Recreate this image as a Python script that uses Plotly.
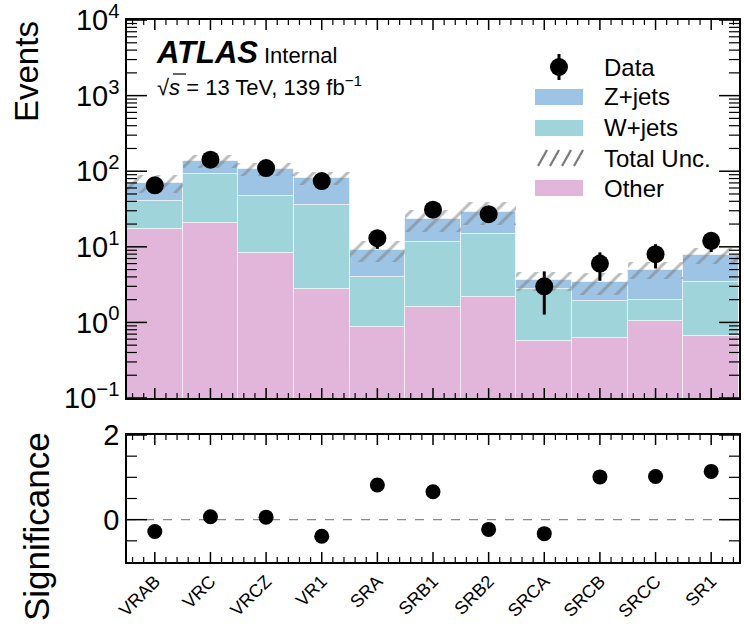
import numpy as np
import plotly.graph_objects as go

# ---------------- data ----------------
regions = ["VRAB", "VRC", "VRCZ", "VR1", "SRA", "SRB1", "SRB2", "SRCA", "SRCB", "SRCC", "SR1"]
other = [17.0, 20.5, 8.4, 2.8, 0.86, 1.6, 2.2, 0.56, 0.63, 1.05, 0.67]
wjets = [23.0, 71.0, 38.0, 33.0, 3.1, 10.0, 12.4, 2.2, 1.3, 0.95, 2.8]
zjets = [30.0, 45.0, 61.0, 46.0, 5.2, 11.7, 14.6, 0.85, 1.5, 3.0, 4.4]
total_unc = [19.0, 25.0, 22.0, 16.0, 2.8, 7.7, 10.0, 1.0, 1.1, 1.25, 1.9]
data = [65, 142, 110, 74, 13, 31, 27, 3, 6, 8, 12]
significance = [-0.28, 0.07, 0.06, -0.39, 0.82, 0.66, -0.23, -0.33, 1.01, 1.02, 1.14]

C_Z = "#9dc3e5"
C_W = "#9fd4db"
C_OTHER = "#e2b6da"
FONT = "Liberation Sans"

n_bins = len(regions)
xpos = [float(i) for i in range(n_bins)]
other_a = np.array(other)
w_a = np.array(wjets)
z_a = np.array(zjets)
tot = other_a + w_a + z_a
unc = np.array(total_unc)
data_a = np.array(data, dtype=float)

# ---------------- page geometry ----------------
W_PX, H_PX = 744, 624
L, R, T, B = 127, 739, 20, 562
TOP_BOTTOM_PX = 398      # lower edge of the upper panel
LOW_TOP_PX = 435         # upper edge of the lower panel


def px(v):
    return (v - L) / (R - L)


def py(v):
    return (B - v) / (B - T)


PLOT_W = R - L
TOP_H = TOP_BOTTOM_PX - T
LOW_H = B - LOW_TOP_PX
XR = [-0.5, n_bins - 0.5]
YLOG = [-1, 4]
YSIG = [-1, 2]

fig = go.Figure()

edge = dict(color="rgba(255,255,255,0.55)", width=1)
fig.add_trace(go.Bar(x=xpos, y=other_a.tolist(), base=[1e-3] * n_bins, width=1.0,
                     marker=dict(color=C_OTHER, line=edge), name="Other",
                     xaxis="x", yaxis="y"))
fig.add_trace(go.Bar(x=xpos, y=w_a.tolist(), base=other_a.tolist(), width=1.0,
                     marker=dict(color=C_W, line=edge), name="W+jets",
                     xaxis="x", yaxis="y"))
fig.add_trace(go.Bar(x=xpos, y=z_a.tolist(), base=(other_a + w_a).tolist(), width=1.0,
                     marker=dict(color=C_Z, line=edge), name="Z+jets",
                     xaxis="x", yaxis="y"))
fig.add_trace(go.Bar(x=xpos, y=(2 * unc).tolist(), base=(tot - unc).tolist(), width=1.0,
                     marker=dict(color="rgba(0,0,0,0)", line=dict(width=0),
                                 pattern=dict(shape="/", fgcolor="#7a7a7a",
                                              bgcolor="rgba(0,0,0,0)",
                                              size=12, solidity=0.25,
                                              fillmode="overlay")),
                     name="Total Unc.", xaxis="x", yaxis="y"))


# ---------------- tick marks, drawn on the panels' own scales ----------------
def tick_trace(segments, width, xaxis, yaxis):
    xs, ys = [], []
    for (x0, y0), (x1, y1) in segments:
        xs += [x0, x1, None]
        ys += [y0, y1, None]
    return go.Scatter(x=xs, y=ys, mode="lines", line=dict(color="black", width=width),
                      hoverinfo="skip", showlegend=False, cliponaxis=False,
                      xaxis=xaxis, yaxis=yaxis)


x_span = XR[1] - XR[0]
dx_major = 20 / PLOT_W * x_span
dx_minor = 10 / PLOT_W * x_span
minor_x = [k * 0.2 for k in range(-2, 5 * n_bins - 2)
           if k % 5 != 0 and XR[0] < k * 0.2 < XR[1]]

# upper panel (log scale)
dec_per_px = (YLOG[1] - YLOG[0]) / TOP_H
ylo, yhi = 10.0 ** YLOG[0], 10.0 ** YLOG[1]
up_major, up_minor = [], []
for xv in xpos:
    up_major.append(((xv, ylo), (xv, ylo * 10 ** (10 * dec_per_px))))
    up_major.append(((xv, yhi), (xv, yhi / 10 ** (10 * dec_per_px))))
for xv in minor_x:
    up_minor.append(((xv, ylo), (xv, ylo * 10 ** (5 * dec_per_px))))
    up_minor.append(((xv, yhi), (xv, yhi / 10 ** (5 * dec_per_px))))
for e in range(YLOG[0], YLOG[1] + 1):
    yv = 10.0 ** e
    up_major.append(((XR[0], yv), (XR[0] + dx_major, yv)))
    up_major.append(((XR[1], yv), (XR[1] - dx_major, yv)))
    if e < YLOG[1]:
        for m in range(2, 10):
            yv = m * 10.0 ** e
            up_minor.append(((XR[0], yv), (XR[0] + dx_minor, yv)))
            up_minor.append(((XR[1], yv), (XR[1] - dx_minor, yv)))

# lower panel (linear scale)
sig_per_px = (YSIG[1] - YSIG[0]) / LOW_H
lo_major, lo_minor = [], []
for xv in xpos:
    lo_major.append(((xv, YSIG[0]), (xv, YSIG[0] + 10 * sig_per_px)))
    lo_major.append(((xv, YSIG[1]), (xv, YSIG[1] - 10 * sig_per_px)))
for xv in minor_x:
    lo_minor.append(((xv, YSIG[0]), (xv, YSIG[0] + 5 * sig_per_px)))
    lo_minor.append(((xv, YSIG[1]), (xv, YSIG[1] - 5 * sig_per_px)))
for yv in (0, 2):
    lo_major.append(((XR[0], yv), (XR[0] + dx_major, yv)))
    lo_major.append(((XR[1], yv), (XR[1] - dx_major, yv)))
for yv in (-0.5, 0.5, 1.0, 1.5):
    lo_minor.append(((XR[0], yv), (XR[0] + dx_minor, yv)))
    lo_minor.append(((XR[1], yv), (XR[1] - dx_minor, yv)))

# dashed reference line at zero significance
fig.add_trace(go.Scatter(x=XR, y=[0, 0], mode="lines",
                         line=dict(color="#888888", width=1.2, dash="dash"),
                         hoverinfo="skip", showlegend=False, xaxis="x2", yaxis="y2"))

fig.add_trace(tick_trace(up_major, 1.5, "x", "y"))
fig.add_trace(tick_trace(up_minor, 1.2, "x", "y"))
fig.add_trace(tick_trace(lo_major, 1.5, "x2", "y2"))
fig.add_trace(tick_trace(lo_minor, 1.2, "x2", "y2"))

# ---------------- measured points ----------------
fig.add_trace(go.Scatter(x=xpos, y=data_a.tolist(), mode="markers",
                         marker=dict(color="black", size=18),
                         error_y=dict(type="data", array=np.sqrt(data_a).tolist(),
                                      color="black", thickness=3, width=0),
                         name="Data", xaxis="x", yaxis="y"))

fig.add_trace(go.Scatter(x=xpos, y=significance, mode="markers",
                         marker=dict(color="black", size=15),
                         name="Significance", xaxis="x2", yaxis="y2"))

# ---------------- axes ----------------
frame = dict(showline=True, linecolor="black", linewidth=1.5, mirror=True,
             showgrid=False, zeroline=False, ticks="")

top_ticks = [1e-1, 1e0, 1e1, 1e2, 1e3, 1e4]
top_text = ["10<sup>−1</sup>", "10<sup>0</sup>", "10<sup>1</sup>",
            "10<sup>2</sup>", "10<sup>3</sup>", "10<sup>4</sup>"]

fig.update_layout(
    width=W_PX, height=H_PX,
    margin=dict(l=L, r=W_PX - R, t=T, b=H_PX - B, autoexpand=False),
    paper_bgcolor="white", plot_bgcolor="white",
    barmode="overlay", bargap=0, showlegend=False,
    font=dict(family=FONT, color="black"),
    xaxis=dict(frame, range=XR, domain=[0, 1], anchor="y", showticklabels=False),
    yaxis=dict(frame, type="log", range=[YLOG[0], YLOG[1] + 0.0005],
               domain=[py(TOP_BOTTOM_PX), 1], anchor="x",
               tickmode="array", tickvals=top_ticks, ticktext=top_text,
               tickfont=dict(size=29, family=FONT, color="black")),
    xaxis2=dict(frame, range=XR, domain=[0, 1], anchor="y2",
                tickmode="array", tickvals=xpos, ticktext=regions,
                tickangle=-45,
                tickfont=dict(size=18, family=FONT, color="black")),
    yaxis2=dict(frame, range=YSIG, domain=[0, py(LOW_TOP_PX)], anchor="x2",
                tickmode="array", tickvals=[0, 2],
                tickfont=dict(size=29, family=FONT, color="black")),
)

shapes = []
ann = []

# axis titles
ann.append(dict(text="Events", x=px(26), y=py(72), xref="paper", yref="paper",
                textangle=-90, showarrow=False, font=dict(size=33, family=FONT),
                xanchor="center", yanchor="middle"))
ann.append(dict(text="Significance", x=px(36), y=py(527), xref="paper", yref="paper",
                textangle=-90, showarrow=False, font=dict(size=35, family=FONT),
                xanchor="center", yanchor="middle"))

# experiment label
ann.append(dict(text="<b><i>ATLAS</i></b>", x=px(154), y=py(53), xref="paper", yref="paper",
                showarrow=False, font=dict(size=31, family=FONT),
                xanchor="left", yanchor="middle"))
ann.append(dict(text="Internal", x=px(262), y=py(55), xref="paper", yref="paper",
                showarrow=False, font=dict(size=22, family=FONT),
                xanchor="left", yanchor="middle"))
ann.append(dict(text="√<i>s</i> = 13 TeV, 139 fb<sup>−1</sup>", x=px(155), y=py(86),
                xref="paper", yref="paper", showarrow=False,
                font=dict(size=22, family=FONT), xanchor="left", yanchor="middle"))
shapes.append(dict(type="line", xref="paper", yref="paper", x0=px(173), x1=px(186),
                   y0=py(74), y1=py(74), line=dict(color="black", width=1.2)))

# legend
leg_x0, leg_x1 = 535, 583
text_x = 602
rows = [("Data", 67), ("Z+jets", 97), ("W+jets", 128), ("Total Unc.", 158), ("Other", 188)]
box_fill = {"Z+jets": C_Z, "W+jets": C_W, "Other": C_OTHER}
for label, yc in rows:
    ann.append(dict(text=label, x=px(text_x), y=py(yc), xref="paper", yref="paper",
                    showarrow=False, font=dict(size=24, family=FONT),
                    xanchor="left", yanchor="middle"))
    if label in box_fill:
        shapes.append(dict(type="rect", xref="paper", yref="paper",
                           x0=px(leg_x0), x1=px(leg_x1), y0=py(yc + 8), y1=py(yc - 8),
                           fillcolor=box_fill[label], line=dict(width=0)))
    elif label == "Total Unc.":
        for k in range(4):
            xs = leg_x0 + 3 + k * 12
            shapes.append(dict(type="line", xref="paper", yref="paper",
                               x0=px(xs), x1=px(xs + 9), y0=py(yc + 8), y1=py(yc - 8),
                               line=dict(color="#7a7a7a", width=2.2)))
    else:
        cx = (leg_x0 + leg_x1) / 2
        shapes.append(dict(type="line", xref="paper", yref="paper",
                           x0=px(cx), x1=px(cx), y0=py(yc + 13), y1=py(yc - 13),
                           line=dict(color="black", width=3)))
        shapes.append(dict(type="circle", xref="paper", yref="paper",
                           x0=px(cx - 9), x1=px(cx + 9), y0=py(yc + 9), y1=py(yc - 9),
                           fillcolor="black", line=dict(width=0)))

fig.update_layout(shapes=shapes, annotations=ann)

fig.write_html("out.html")
